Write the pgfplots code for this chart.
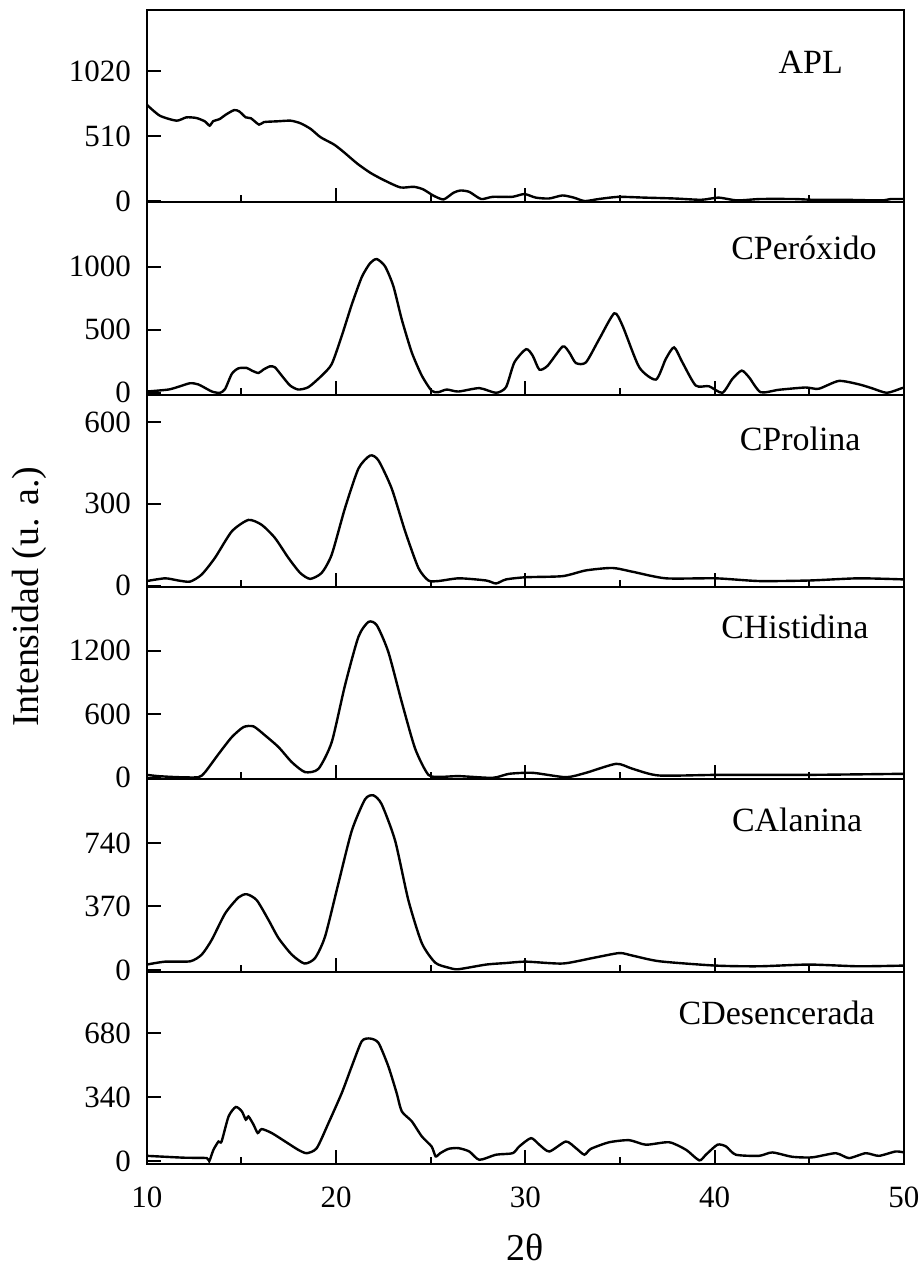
\documentclass[border=0pt]{standalone}
\usepackage{pgfplots}
\pgfplotsset{compat=1.18}
\usepackage{fontspec}
\setmainfont{Liberation Serif}
\begin{document}
\begin{tikzpicture}
\useasboundingbox (-73.5pt,-54pt) rectangle (389pt,582.8pt);
\pgfplotsset{
 panel/.style={
  width=379pt, height=96.3pt, scale only axis, anchor=south west,
  xmin=10, xmax=50, xtick={10,20,30,40,50}, minor x tick num=1,
  xticklabels={},
  tick pos=left, tick align=inside,
  axis line style={line width=1pt},
  major tick length=7pt, minor tick length=3.5pt,
  tick style={black, line width=1pt},
  /pgf/number format/assume math mode=true,
  /pgf/number format/1000 sep={},
  yticklabel style={font=\fontsize{15.5}{18}\selectfont, xshift=-4.5pt},
  xticklabel style={font=\fontsize{15.5}{18}\selectfont, yshift=-8pt},
 },
 curve/.style={black, line width=1.2pt, smooth, tension=0.4, mark=none},
}
\tikzset{plabel/.style={font=\fontsize{17}{20}\selectfont, anchor=base}}
% APL
\begin{axis}[panel, at={(0pt,481.5pt)}, ymin=-10, ymax=1500, ytick={0,510,1020}]
\addplot[curve] coordinates {(10,756)(10.69,670)(11.57,631)(12.09,657)(12.62,652)(13.06,626)(13.32,592)(13.5,626)(13.85,644)(14.17,678)(14.61,714)(14.88,704)(15.23,657)(15.5,650)(15.93,600)(16.19,620)(16.9,626)(17.6,631)(18.13,610)(18.66,566)(19.18,501)(19.89,444)(20.41,384)(21.12,294)(21.82,221)(22.53,164)(23.4,107)(24.1,112)(24.6,92)(25.15,42)(25.68,13)(26.2,65)(26.57,83)(27.04,72)(27.66,16)(28.27,33)(29.3,33)(29.95,55)(30.55,27)(31.25,20)(31.96,44)(32.56,27)(33.14,0)(33.88,16)(34.93,33)(36.3,27)(37.9,20)(39.3,10)(40.2,27)(41.2,5)(42.4,16)(44.2,16)(45.2,10)(46.8,10)(48.8,5)(49.3,16)(50,16)};
\node[plabel] at (rel axis cs:0.877,0.672) {APL};
\end{axis}
% CPeroxido
\begin{axis}[panel, at={(0pt,385.2pt)}, ymin=-15, ymax=1510, ytick={0,500,1000}]
\addplot[curve] coordinates {(10,10)(11.15,26)(11.76,52)(12.29,76)(12.73,66)(13.44,10)(13.87,0)(14.14,31)(14.49,150)(14.84,194)(15.28,197)(15.55,176)(15.9,157)(16.16,184)(16.51,210)(16.77,202)(17.13,136)(17.57,58)(18.0,26)(18.54,45)(19.24,136)(19.77,228)(20.3,451)(20.83,700)(21.36,918)(21.8,1028)(22.15,1060)(22.59,1002)(23.03,844)(23.47,582)(24.0,320)(24.53,136)(25.05,16)(25.4,5)(25.85,26)(26.46,10)(27.57,37)(28.45,0)(28.98,45)(29.42,241)(30.04,346)(30.39,294)(30.74,184)(31.18,215)(31.97,367)(32.32,320)(32.67,236)(33.2,241)(33.9,425)(34.7,630)(35.14,530)(36.02,202)(36.9,105)(37.42,268)(37.86,360)(38.3,241)(39.0,58)(39.7,52)(40.41,0)(40.94,110)(41.43,176)(41.82,123)(42.43,5)(43.4,24)(44.8,42)(45.5,32)(46.56,94)(47.6,68)(48.3,37)(49.1,0)(49.9,37)(50,40)};
\node[plabel] at (rel axis cs:0.868,0.701) {CPeróxido};
\end{axis}
% CProlina
\begin{axis}[panel, at={(0pt,288.9pt)}, ymin=-5, ymax=700, ytick={0,300,600}]
\addplot[curve] coordinates {(10,17)(10.97,27)(11.67,19)(12.29,15)(12.9,41)(13.6,102)(14.49,199)(15.37,241)(16.07,223)(16.77,175)(17.48,102)(18.1,47)(18.63,25)(19.24,47)(19.77,114)(20.47,284)(21.18,429)(21.8,477)(22.24,459)(22.94,356)(23.65,199)(24.35,65)(24.88,19)(25.4,17)(26.5,27)(27.93,19)(28.45,8)(28.98,23)(30.04,31)(31.97,35)(33.2,56)(34.6,65)(35.67,51)(37.42,27)(40.06,27)(42.35,17)(44.98,19)(47.6,27)(50,23)};
\node[plabel] at (rel axis cs:0.863,0.71) {CProlina};
\end{axis}
% CHistidina
\begin{axis}[panel, at={(0pt,192.6pt)}, ymin=-15, ymax=1800, ytick={0,600,1200}]
\addplot[curve] coordinates {(10,28)(10.6,16)(11.67,6)(12.73,6)(13.08,54)(13.8,227)(14.49,384)(15.11,479)(15.64,485)(16.25,400)(16.96,290)(17.66,148)(18.36,54)(19.07,85)(19.77,337)(20.47,872)(21.18,1330)(21.71,1471)(22.15,1440)(22.76,1188)(23.47,715)(24.18,274)(24.88,28)(25.6,10)(26.5,16)(28.27,0)(29.15,38)(30.4,47)(32.14,6)(33.2,47)(34.8,132)(35.67,85)(37.06,22)(40.2,28)(45,28)(50,38)};
\node[plabel] at (rel axis cs:0.856,0.733) {CHistidina};
\end{axis}
% CAlanina
\begin{axis}[panel, at={(0pt,96.3pt)}, ymin=-11, ymax=1110, ytick={0,370,740}]
\addplot[curve] coordinates {(10,31)(10.97,48)(12.29,50)(12.9,89)(13.43,175)(14.14,329)(14.84,422)(15.28,441)(15.81,406)(16.43,291)(16.96,185)(17.66,89)(18.33,37)(18.89,69)(19.42,195)(20.12,503)(20.83,811)(21.53,994)(21.97,1017)(22.41,965)(23.12,753)(23.82,406)(24.53,156)(25.24,42)(25.94,13)(26.46,4)(27.93,31)(28.98,40)(30.04,48)(31.97,37)(33.55,69)(34.96,98)(35.67,83)(37.1,50)(40.06,25)(42.35,21)(44.98,31)(47.6,21)(50,25)};
\node[plabel] at (rel axis cs:0.859,0.727) {CAlanina};
\end{axis}
% CDesencerada
\begin{axis}[panel, at={(0pt,0pt)}, ymin=-16, ymax=1004, ytick={0,340,680}, xticklabels={10,20,30,40,50}]
\addplot[curve] coordinates {(10,28)(10.97,23)(12.02,18)(13.17,16)(13.3,0)(13.52,60)(13.79,104)(13.95,104)(14.32,237)(14.7,287)(15.02,264)(15.23,220)(15.37,237)(15.64,193)(15.86,149)(16.07,170)(16.6,149)(17.31,104)(18.0,60)(18.45,42)(18.98,69)(19.6,202)(20.3,361)(20.83,503)(21.36,636)(21.8,650)(22.24,627)(22.76,503)(23.2,361)(23.47,264)(24.0,211)(24.53,131)(25.05,77)(25.26,25)(25.5,42)(25.94,65)(26.46,69)(27.04,51)(27.57,7)(28.45,34)(29.33,42)(29.68,78)(30.3,122)(30.74,87)(31.27,51)(32.14,104)(32.67,69)(33.12,34)(33.46,65)(34.43,100)(35.49,111)(36.37,87)(37.6,100)(38.49,60)(39.19,4)(39.54,34)(40.15,87)(40.6,78)(41.12,34)(42.35,28)(43.05,46)(44.1,23)(45.16,20)(46.4,42)(47.1,16)(47.98,42)(48.68,28)(49.56,51)(50,46)};
\node[plabel] at (rel axis cs:0.832,0.724) {CDesencerada};
\end{axis}
\node[rotate=90, font=\fontsize{19}{22}\selectfont] at (-59pt,284pt) {Intensidad (u. a.)};
\node[font=\fontsize{19}{22}\selectfont, inner sep=0pt] at (189.5pt,-41.5pt) {2θ};
\end{tikzpicture}
\end{document}
